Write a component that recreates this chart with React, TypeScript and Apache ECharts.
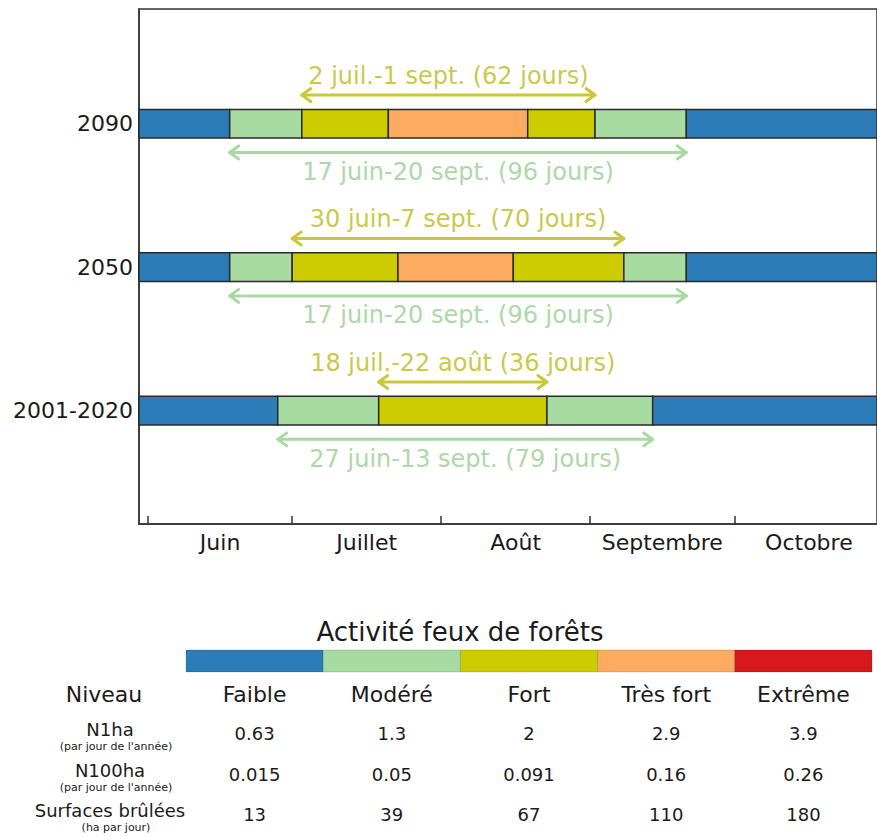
import React, { useEffect, useRef } from 'react';
import * as echarts from 'echarts';

const FONT = '"DejaVu Sans", Verdana, sans-serif';

// ---- axis data ----
const monthNames = ['Juin', 'Juillet', 'Août', 'Septembre', 'Octobre'];
const monthDays = [30, 31, 31, 30, 31];
const periods = ['2001-2020', '2050', '2090'];

// ---- fire danger levels ----
const levelNames = ['Faible', 'Modéré', 'Fort', 'Très fort', 'Extrême'];
const levelColors = ['#2b7cb8', '#a8dba2', '#cccc00', '#fdab60', '#d7191c'];

// ---- season segments (day number, 1 = 1 June) ----
const bounds2001 = [-2, 27, 48, 83, 105, 153];
const levels2001 = [0, 1, 2, 1, 0];
const bounds2050 = [-2, 17, 30, 52, 76, 99, 112, 153];
const levels2050 = [0, 1, 2, 3, 2, 1, 0];
const bounds2090 = [-2, 17, 32, 50, 79, 93, 112, 153];
const levels2090 = [0, 1, 2, 3, 2, 1, 0];

// ---- season lengths ----
const strongRanges = [[48, 83], [30, 99], [32, 93]];
const strongLabels = ['18 juil.-22 août (36 jours)', '30 juin-7 sept. (70 jours)', '2 juil.-1 sept. (62 jours)'];
const moderateRanges = [[27, 105], [17, 112], [17, 112]];
const moderateLabels = ['27 juin-13 sept. (79 jours)', '17 juin-20 sept. (96 jours)', '17 juin-20 sept. (96 jours)'];

// ---- table ----
const tableHeader = 'Niveau';
const tableTitle = 'Activité feux de forêts';
const rowLabels = ['N1ha', 'N100ha', 'Surfaces brûlées'];
const rowUnits = ["(par jour de l'année)", "(par jour de l'année)", '(ha par jour)'];
const n1ha = [0.63, 1.3, 2, 2.9, 3.9];
const n100ha = [0.015, 0.05, 0.091, 0.16, 0.26];
const burned = [13, 39, 67, 110, 180];

const STRONG_ARROW = '#c8c83a';
const STRONG_TEXT = '#c9c94a';
const MOD_ARROW = '#a8d9a1';
const MOD_TEXT = '#acd9a6';

function buildOption() {
  const monthTicks: number[] = [0];
  monthDays.forEach((d, i) => monthTicks.push(monthTicks[i] + d));
  const monthMids = monthDays.map((d, i) => monthTicks[i] + d / 2);

  const allBounds = [bounds2001, bounds2050, bounds2090];
  const allLevels = [levels2001, levels2050, levels2090];
  const segData: number[][] = [];
  allBounds.forEach((b, p) => {
    allLevels[p].forEach((lv, i) => {
      segData.push([b[i], b[i + 1], p + 1, lv]);
    });
  });

  const arrowData: number[][] = [];
  const arrowMeta: { text: string; arrow: string; color: string }[] = [];
  periods.forEach((_, p) => {
    arrowData.push([strongRanges[p][0], strongRanges[p][1], p + 1, 1]);
    arrowMeta.push({ text: strongLabels[p], arrow: STRONG_ARROW, color: STRONG_TEXT });
    arrowData.push([moderateRanges[p][0], moderateRanges[p][1], p + 1, -1]);
    arrowMeta.push({ text: moderateLabels[p], arrow: MOD_ARROW, color: MOD_TEXT });
  });

  // table graphics
  const barX = 186;
  const barW = 686;
  const colW = barW / levelNames.length;
  const colX = (i: number) => barX + colW * (i + 0.5);
  const txt = (text: string, x: number, y: number, size: number, fill = '#1a1a1a') => ({
    type: 'text',
    x,
    y,
    style: {
      text,
      fill,
      font: `${size}px ${FONT}`,
      align: 'center',
      verticalAlign: 'middle',
      textAlign: 'center',
      textVerticalAlign: 'middle',
    },
  });
  const graphics: any[] = [];
  graphics.push(txt(tableTitle, 460, 632, 26));
  levelColors.forEach((c, i) => {
    graphics.push({
      type: 'rect',
      shape: { x: barX + colW * i, y: 650, width: colW, height: 22 },
      style: { fill: c, stroke: 'rgba(0,0,0,0.25)', lineWidth: 0.6 },
    });
  });
  graphics.push(txt(tableHeader, 104, 694, 22));
  levelNames.forEach((n, i) => graphics.push(txt(n, colX(i), 694, 22)));
  const rowsVals = [n1ha, n100ha, burned];
  const rowY = [733, 774, 814];
  rowLabels.forEach((l, r) => {
    graphics.push(txt(l, 110, rowY[r] - 4, 18));
    graphics.push(txt(rowUnits[r], 116, rowY[r] + 13, 11));
    rowsVals[r].forEach((v, i) => graphics.push(txt(String(v), colX(i), rowY[r], 18)));
  });

  return {
    animation: false,
    backgroundColor: '#ffffff',
    grid: {
      left: 139,
      top: 9,
      width: 740,
      height: 515,
      show: true,
      borderColor: '#333',
      borderWidth: 1.5,
    },
    xAxis: {
      type: 'value',
      min: -1.87,
      max: 151.67,
      splitLine: { show: false },
      axisLine: { show: true, onZero: false, lineStyle: { color: '#333', width: 1.5 } },
      axisTick: {
        show: true,
        inside: true,
        length: 8,
        lineStyle: { color: '#333', width: 1.5 },
        customValues: monthTicks.slice(0, 5),
      },
      axisLabel: {
        customValues: monthMids,
        margin: 7,
        color: '#1a1a1a',
        fontSize: 22,
        fontFamily: FONT,
        formatter: (v: number) => {
          let best = 0;
          monthMids.forEach((m, i) => {
            if (Math.abs(m - v) < Math.abs(monthMids[best] - v)) best = i;
          });
          return monthNames[best];
        },
      },
    },
    yAxis: {
      type: 'value',
      min: 0.21,
      max: 3.8,
      splitLine: { show: false },
      axisLine: { show: true, onZero: false, lineStyle: { color: '#333', width: 1.5 } },
      axisTick: { show: false },
      axisLabel: {
        customValues: [1, 2, 3],
        margin: 6,
        color: '#1a1a1a',
        fontSize: 22,
        fontFamily: FONT,
        formatter: (v: number) => periods[Math.round(v) - 1] ?? '',
      },
    },
    series: [
      {
        type: 'custom',
        name: 'segments',
        data: segData,
        encode: { x: [0, 1], y: 2 },
        renderItem: (params: any, api: any) => {
          const y = api.value(2);
          const s = api.coord([api.value(0), y]);
          const e = api.coord([api.value(1), y]);
          const h = api.size([0, 0.2])[1];
          const rect = echarts.graphic.clipRectByRect(
            { x: s[0], y: s[1] - h / 2, width: e[0] - s[0], height: h },
            {
              x: params.coordSys.x,
              y: params.coordSys.y,
              width: params.coordSys.width,
              height: params.coordSys.height,
            }
          );
          if (!rect) return null;
          return {
            type: 'rect',
            shape: rect,
            style: { fill: levelColors[api.value(3)], stroke: '#2a2a2a', lineWidth: 1.5 },
          };
        },
      },
      {
        type: 'custom',
        name: 'arrows',
        data: arrowData,
        encode: { x: [0, 1], y: 2 },
        renderItem: (params: any, api: any) => {
          const meta = arrowMeta[params.dataIndex];
          const y = api.value(2);
          const dir = api.value(3);
          const a = api.coord([api.value(0), y + dir * 0.2]);
          const b = api.coord([api.value(1), y + dir * 0.2]);
          const t = api.coord([(api.value(0) + api.value(1)) / 2, y + dir * 0.335]);
          const hl = 9;
          const hh = 6.5;
          const ls = { stroke: meta.arrow, lineWidth: 3, fill: 'none', lineCap: 'round', lineJoin: 'round' };
          return {
            type: 'group',
            children: [
              { type: 'line', shape: { x1: a[0], y1: a[1], x2: b[0], y2: b[1] }, style: ls },
              {
                type: 'polyline',
                shape: { points: [[a[0] + hl, a[1] - hh], [a[0], a[1]], [a[0] + hl, a[1] + hh]] },
                style: ls,
              },
              {
                type: 'polyline',
                shape: { points: [[b[0] - hl, b[1] - hh], [b[0], b[1]], [b[0] - hl, b[1] + hh]] },
                style: ls,
              },
              {
                type: 'text',
                x: t[0],
                y: t[1],
                style: {
                  text: meta.text,
                  fill: meta.color,
                  font: `24px ${FONT}`,
                  align: 'center',
                  verticalAlign: 'middle',
                },
              },
            ],
          };
        },
      },
    ],
    graphic: graphics,
  };
}

export default function App() {
  const ref = useRef<HTMLDivElement>(null);
  useEffect(() => {
    if (!ref.current) return;
    const chart = echarts.init(ref.current, undefined, { renderer: 'svg' });
    chart.setOption(buildOption() as any);
    return () => chart.dispose();
  }, []);
  return (
    <div
      ref={ref}
      style={{ position: 'fixed', left: 0, top: 0, width: 877, height: 836, background: '#fff' }}
    />
  );
}
